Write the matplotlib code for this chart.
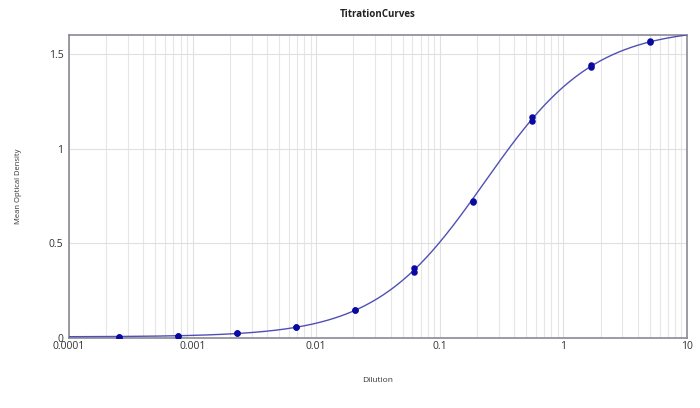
import numpy as np
import matplotlib
matplotlib.use("Agg")
import matplotlib.pyplot as plt
from matplotlib.ticker import FixedLocator, NullFormatter, LogLocator

# ---- data ----
dilution_a = [0.000254, 0.000762, 0.00229, 0.00686, 0.0206, 0.0617, 0.185, 0.556, 1.667, 5.0]
od_a =       [0.005,    0.011,    0.025,   0.060,   0.148,  0.370,  0.725, 1.168, 1.443, 1.566]
od_b =       [0.005,    0.011,    0.025,   0.060,   0.148,  0.348,  0.720, 1.148, 1.430, 1.562]

x_ticks = [0.0001, 0.001, 0.01, 0.1, 1, 10]
x_tick_labels = ["0.0001", "0.001", "0.01", "0.1", "1", "10"]
y_ticks = [0, 0.5, 1, 1.5]
y_tick_labels = ["0", "0.5", "1", "1.5"]

title = "TitrationCurves"
x_label = "Dilution"
y_label = "Mean Optical Density"

# ---- 4-parameter logistic fit (grid search) ----
xs = np.array(dilution_a + dilution_a)
ys = np.array(od_a + od_b)

def fourpl(x, a, b, c, d):
    return d + (a - d) / (1.0 + (x / c) ** b)

best = None
for a in np.linspace(0.0, 0.01, 6):
    for b in np.linspace(0.8, 1.4, 31):
        for c in np.logspace(np.log10(0.08), np.log10(0.6), 60):
            for d in np.linspace(1.5, 1.9, 41):
                err = np.sum((fourpl(xs, a, b, c, d) - ys) ** 2)
                if best is None or err < best[0]:
                    best = (err, a, b, c, d)
_, A, B, C, D = best

plt.rcParams["font.family"] = ["Open Sans", "DejaVu Sans"]

fig = plt.figure(figsize=(7.0, 4.08), dpi=100)
ax = fig.add_axes([69 / 700, 1 - 338 / 408, (687 - 69) / 700, (338 - 35) / 408])

xc = np.logspace(-4, 1, 400)
ax.plot(xc, fourpl(xc, A, B, C, D), color="#5050b4", lw=1.0, zorder=3)
ax.scatter(dilution_a, od_a, s=22, color="#0a0aa0", zorder=4, linewidths=0)
ax.scatter(dilution_a, od_b, s=22, color="#0a0aa0", zorder=4, linewidths=0)

ax.set_xscale("log")
ax.set_xlim(1e-4, 10)
ax.set_ylim(0, 1.6)

ax.xaxis.set_major_locator(FixedLocator(x_ticks))
ax.set_xticklabels(x_tick_labels)
ax.xaxis.set_minor_locator(LogLocator(base=10, subs=np.arange(2, 10)))
ax.xaxis.set_minor_formatter(NullFormatter())
ax.set_yticks(y_ticks)
ax.set_yticklabels(y_tick_labels)

ax.grid(True, which="major", axis="both", color="#e0e0e0", lw=0.8)
ax.grid(True, which="minor", axis="x", color="#e6e6e6", lw=0.8)
ax.set_axisbelow(True)

ax.tick_params(axis="both", which="both", length=0, labelsize=7.5, colors="#333333", pad=2)
ax.tick_params(axis="y", pad=4)
for s in ax.spines.values():
    s.set_color("#8a8a96")
    s.set_linewidth(1.2)

ax.set_title(title, fontsize=7, fontweight="bold", color="#222222", pad=13)
ax.set_xlabel(x_label, fontsize=6, color="#333333", labelpad=18)
ax.set_ylabel(y_label, fontsize=5.5, color="#333333", labelpad=19)

fig.savefig("out.png", dpi=100, facecolor="white")
